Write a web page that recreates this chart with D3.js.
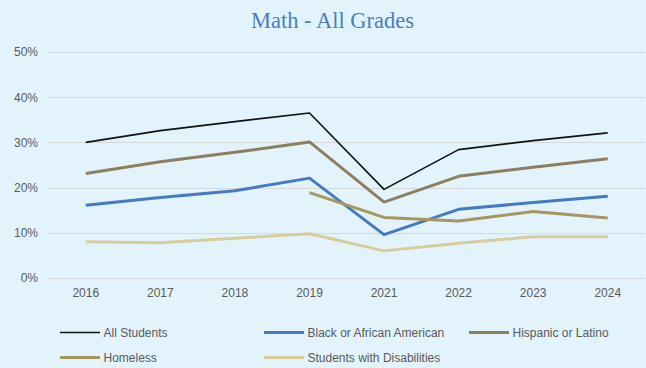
<!DOCTYPE html>
<html>
<head>
<meta charset="utf-8">
<script src="https://cdn.jsdelivr.net/npm/d3@7"></script>
<style>
  html, body { margin: 0; padding: 0; background: #e3f3fc; }
  svg { display: block; }
</style>
</head>
<body>
<svg id="chart" width="646" height="368"></svg>
<script>
// Proficiency rates by student group, Math - All Grades
const years = ["2016", "2017", "2018", "2019", "2021", "2022", "2023", "2024"];
const yTicks = [0, 0.1, 0.2, 0.3, 0.4, 0.5];

const allStudents = [0.300, 0.326, 0.346, 0.365, 0.196, 0.284, 0.304, 0.321];
const blackAfricanAmerican = [0.161, 0.178, 0.193, 0.221, 0.096, 0.152, 0.167, 0.181];
const hispanicLatino = [0.231, 0.257, 0.278, 0.301, 0.168, 0.225, 0.245, 0.264];
const homeless = [null, null, null, 0.189, 0.134, 0.126, 0.147, 0.133];
const disabilities = [0.080, 0.078, 0.088, 0.098, 0.060, 0.077, 0.091, 0.091];

const series = [
  { name: "All Students", values: allStudents, color: "#111111", width: 1.6 },
  { name: "Black or African American", values: blackAfricanAmerican, color: "#4479c4", width: 3 },
  { name: "Hispanic or Latino", values: hispanicLatino, color: "#8b7f5f", width: 3 },
  { name: "Homeless", values: homeless, color: "#a6975f", width: 3 },
  { name: "Students with Disabilities", values: disabilities, color: "#d8cc9a", width: 3 }
];

const svg = d3.select("#chart");
const W = 646, H = 368;
const plot = { left: 48.5, right: 645, top: 52, bottom: 278 };

svg.append("rect").attr("width", W).attr("height", H).attr("fill", "#e3f3fc");

// Title
svg.append("text")
  .attr("x", 332.5).attr("y", 27.5)
  .attr("text-anchor", "middle")
  .attr("font-family", "'Liberation Serif', 'Times New Roman', serif")
  .attr("font-size", 22.5)
  .attr("fill", "#4a7ec4")
  .text("Math - All Grades");

const x = d3.scaleBand().domain(years).range([plot.left, plot.right]).paddingInner(0).paddingOuter(0);
const xc = d => x(d) + x.bandwidth() / 2;
const y = d3.scaleLinear().domain([0, 0.5]).range([plot.bottom, plot.top]);

// Gridlines
svg.append("g")
  .selectAll("line")
  .data(yTicks)
  .join("line")
  .attr("x1", plot.left).attr("x2", plot.right)
  .attr("y1", d => Math.round(y(d)) + 0.5).attr("y2", d => Math.round(y(d)) + 0.5)
  .attr("stroke", "#d6d9dc").attr("stroke-width", 1.2);

// Y axis labels
const yAxis = d3.axisLeft(y).tickValues(yTicks).tickFormat(d3.format(".0%")).tickSize(0).tickPadding(0);
const gy = svg.append("g").attr("transform", `translate(${plot.left - 10.5},0)`).call(yAxis);
gy.select(".domain").remove();
gy.selectAll("text")
  .attr("font-family", "'Liberation Sans', Arial, sans-serif")
  .attr("font-size", 12)
  .attr("fill", "#595959");

// X axis labels
const xAxis = d3.axisBottom(x).tickSize(0).tickPadding(0);
const gx = svg.append("g").attr("transform", `translate(0,${plot.bottom + 10})`).call(xAxis);
gx.select(".domain").remove();
gx.selectAll("text")
  .attr("font-family", "'Liberation Sans', Arial, sans-serif")
  .attr("font-size", 12)
  .attr("fill", "#595959");

// Lines
const line = d3.line()
  .defined(d => d.v !== null)
  .x(d => xc(d.year))
  .y(d => y(d.v));

svg.append("g")
  .selectAll("path")
  .data(series)
  .join("path")
  .attr("d", s => line(s.values.map((v, i) => ({ year: years[i], v }))))
  .attr("fill", "none")
  .attr("stroke", s => s.color)
  .attr("stroke-width", s => s.width)
  .attr("stroke-linejoin", "round");

// Legend
const legendPos = [
  { x: 60, y: 332.5 }, { x: 264, y: 332.5 }, { x: 469, y: 332.5 },
  { x: 60, y: 357.5 }, { x: 264, y: 357.5 }
];
const lg = svg.append("g")
  .selectAll("g")
  .data(series)
  .join("g")
  .attr("transform", (s, i) => `translate(${legendPos[i].x},${legendPos[i].y})`);
lg.append("line")
  .attr("x1", 0).attr("x2", 40).attr("y1", 0).attr("y2", 0)
  .attr("stroke", s => s.color)
  .attr("stroke-width", s => s.width);
lg.append("text")
  .attr("x", 43.5).attr("y", 4.3)
  .attr("font-family", "'Liberation Sans', Arial, sans-serif")
  .attr("font-size", 12)
  .attr("fill", "#595959")
  .text(s => s.name);
</script>
</body>
</html>
